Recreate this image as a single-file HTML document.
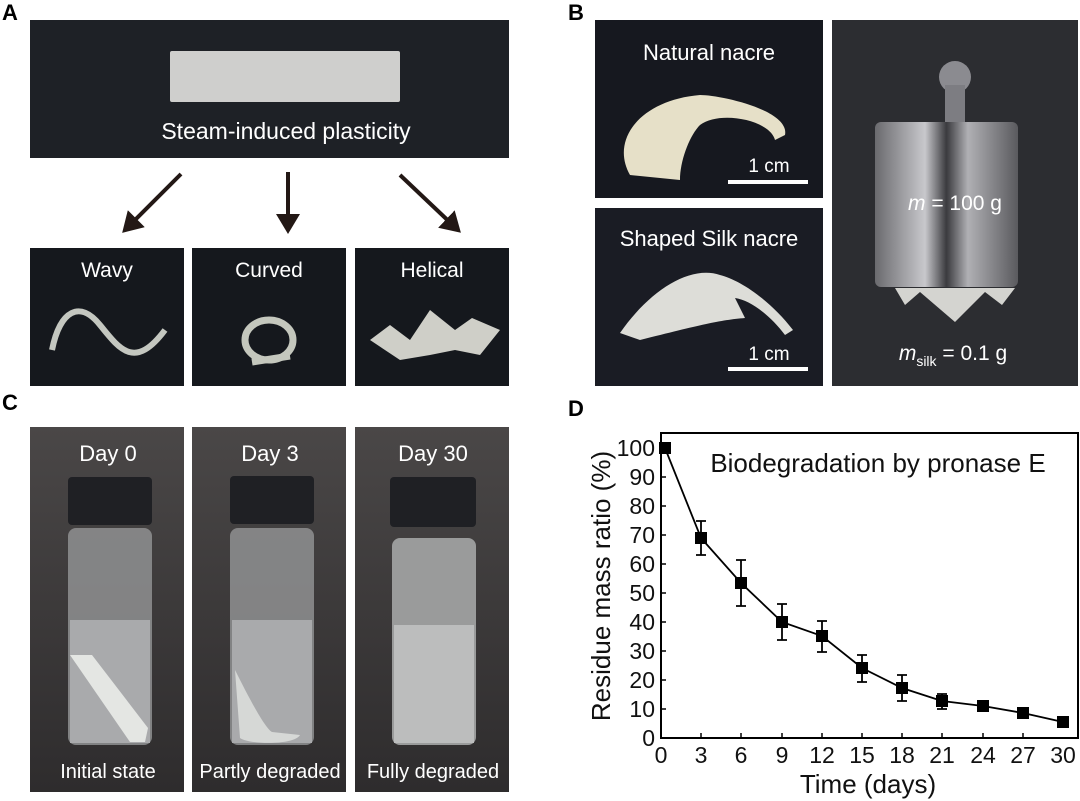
<!DOCTYPE html>
<html><head><meta charset="utf-8"><style>
html,body{margin:0;padding:0;background:#fff;}
svg{display:block;font-family:"Liberation Sans",Arial,sans-serif;}
</style></head><body>
<svg width="1080" height="801" viewBox="0 0 1080 801" xmlns="http://www.w3.org/2000/svg">
<defs>
<linearGradient id="gc" x1="0" y1="0" x2="0" y2="1"><stop offset="0" stop-color="#4a4747"/><stop offset="1" stop-color="#2e2c2d"/></linearGradient>
<linearGradient id="gw" x1="0" y1="0" x2="1" y2="0"><stop offset="0" stop-color="#6a6a6e"/><stop offset="0.35" stop-color="#c8c8cc"/><stop offset="0.5" stop-color="#3a3a3e"/><stop offset="0.65" stop-color="#b0b0b4"/><stop offset="1" stop-color="#5a5a5e"/></linearGradient>
<marker id="ah" markerWidth="6" markerHeight="6" refX="4" refY="3" orient="auto" markerUnits="strokeWidth"><path d="M0,0 L5,3 L0,6 Z" fill="#231815"/></marker>
</defs>
<g font-weight="bold" font-size="22" fill="#000">
<text x="2" y="20">A</text><text x="568" y="20">B</text><text x="2" y="410">C</text><text x="568" y="416">D</text>
</g>
<!-- A -->
<rect x="30" y="20" width="479" height="138" fill="#1e2126"/>
<rect x="170" y="51" width="230" height="51" fill="#cfcfcd" rx="2"/>
<text x="286" y="139" font-size="23" fill="#fff" text-anchor="middle">Steam-induced plasticity</text>
<g stroke="#231815" stroke-width="4" fill="none">
<line x1="181" y1="174" x2="125" y2="230" marker-end="url(#ah)"/>
<line x1="288" y1="172" x2="288" y2="230" marker-end="url(#ah)"/>
<line x1="400" y1="175" x2="458" y2="230" marker-end="url(#ah)"/>
</g>
<rect x="30" y="248" width="154" height="138" fill="#15181d"/>
<rect x="192" y="248" width="154" height="138" fill="#15181d"/>
<rect x="355" y="248" width="154" height="138" fill="#15181d"/>
<g font-size="21" fill="#fff" text-anchor="middle"><text x="107" y="277">Wavy</text><text x="269" y="277">Curved</text><text x="432" y="277">Helical</text></g>
<path d="M52,350 C60,310 80,300 100,325 S135,370 165,330" stroke="#c4c7c0" stroke-width="6" fill="none"/>
<ellipse cx="269" cy="340" rx="24" ry="20" stroke="#c4c7bd" stroke-width="7" fill="none"/>
<path d="M252,362 L290,356" stroke="#c4c7bd" stroke-width="7"/>
<path d="M370,340 L390,325 L410,340 L430,310 L455,330 L472,318 L500,330 L480,355 L455,350 L430,355 L400,360 Z" fill="#cfcfc8"/>
<!-- B -->
<rect x="595" y="20" width="228" height="178" fill="#16181f"/>
<rect x="595" y="208" width="228" height="178" fill="#1a1c24"/>
<rect x="832" y="20" width="246" height="366" fill="#2c2d31"/>
<text x="709" y="60" font-size="22" fill="#fff" text-anchor="middle">Natural nacre</text>
<path d="M630,175 C610,140 640,100 700,95 C720,95 790,110 785,135 L775,140 C770,120 720,110 700,125 C690,135 680,160 680,180 Z" fill="#e6e0c8"/>
<text x="769" y="172" font-size="19" fill="#fff" text-anchor="middle">1 cm</text>
<rect x="728" y="180" width="80" height="4" fill="#fff"/>
<text x="709" y="246" font-size="22" fill="#fff" text-anchor="middle">Shaped Silk nacre</text>
<path d="M620,333 C650,290 690,265 720,275 C740,280 770,300 793,330 L785,335 C770,315 750,300 735,298 L745,318 C720,320 700,325 640,340 Z" fill="#ddddd8"/>
<text x="769" y="360" font-size="19" fill="#fff" text-anchor="middle">1 cm</text>
<rect x="728" y="367" width="80" height="4" fill="#fff"/>
<circle cx="955" cy="77" r="16" fill="#8b8b90"/>
<rect x="945" y="85" width="20" height="40" fill="#7d7d82"/>
<rect x="875" y="122" width="143" height="165" rx="6" fill="url(#gw)"/>
<path d="M895,288 L905,305 L920,292 L955,322 L985,292 L1002,305 L1015,288 Z" fill="#d4d4d0"/>
<text x="955" y="210" font-size="21" fill="#fff" text-anchor="middle"><tspan font-style="italic">m</tspan> = 100 g</text>
<text x="953" y="360" font-size="21" fill="#fff" text-anchor="middle"><tspan font-style="italic">m</tspan><tspan font-size="14" dy="6">silk</tspan><tspan dy="-6"> = 0.1 g</tspan></text>
<!-- C -->
<g>
<rect x="30" y="427" width="154" height="365" fill="url(#gc)"/>
<rect x="192" y="427" width="154" height="365" fill="url(#gc)"/>
<rect x="355" y="427" width="154" height="365" fill="url(#gc)"/>
<rect x="68" y="477" width="84" height="48" rx="4" fill="#1f2024"/>
<rect x="230" y="476" width="84" height="48" rx="4" fill="#1f2024"/>
<rect x="390" y="477" width="86" height="50" rx="4" fill="#1f2024"/>
<rect x="68" y="528" width="84" height="217" rx="8" fill="#8f9092" opacity="0.85"/>
<rect x="230" y="528" width="84" height="217" rx="8" fill="#8f9092" opacity="0.85"/>
<rect x="392" y="538" width="84" height="207" rx="8" fill="#9a9b9b"/>
<rect x="70" y="620" width="80" height="123" fill="#a9aaac"/>
<rect x="232" y="620" width="80" height="123" fill="#a9aaac"/>
<rect x="394" y="625" width="80" height="118" fill="#bcbdbd"/>
<path d="M70,655 L92,655 L148,728 L145,742 L130,742 Z" fill="#e4e6e3"/>
<path d="M235,670 C250,700 265,728 272,732 L300,735 C295,745 250,745 240,738 Z" fill="#d6d8d6"/>
<g font-size="22" fill="#fff" text-anchor="middle"><text x="108" y="461">Day 0</text><text x="270" y="461">Day 3</text><text x="433" y="461">Day 30</text></g>
<g font-size="20" fill="#fff" text-anchor="middle"><text x="108" y="778">Initial state</text><text x="270" y="778">Partly degraded</text><text x="433" y="778">Fully degraded</text></g>
</g>
<!-- D -->
<rect x="661" y="433" width="417" height="305" fill="#fff" stroke="#000" stroke-width="2"/>
<text x="878" y="472" font-size="26" fill="#111" text-anchor="middle">Biodegradation by pronase E</text>
<g font-size="23" fill="#111" text-anchor="end">
<text x="655" y="746">0</text><text x="655" y="717">10</text><text x="655" y="688">20</text><text x="655" y="659">30</text><text x="655" y="630">40</text><text x="655" y="601">50</text><text x="655" y="572">60</text><text x="655" y="543">70</text><text x="655" y="514">80</text><text x="655" y="485">90</text><text x="655" y="456">100</text>
</g>
<g stroke="#000" stroke-width="1.5">
<line x1="661" y1="709" x2="666" y2="709"/><line x1="661" y1="680" x2="666" y2="680"/><line x1="661" y1="651" x2="666" y2="651"/><line x1="661" y1="622" x2="666" y2="622"/><line x1="661" y1="593" x2="666" y2="593"/><line x1="661" y1="564" x2="666" y2="564"/><line x1="661" y1="535" x2="666" y2="535"/><line x1="661" y1="506" x2="666" y2="506"/><line x1="661" y1="477" x2="666" y2="477"/><line x1="661" y1="448" x2="666" y2="448"/>
<line x1="701" y1="738" x2="701" y2="733"/><line x1="741" y1="738" x2="741" y2="733"/><line x1="782" y1="738" x2="782" y2="733"/><line x1="822" y1="738" x2="822" y2="733"/><line x1="862" y1="738" x2="862" y2="733"/><line x1="902" y1="738" x2="902" y2="733"/><line x1="942" y1="738" x2="942" y2="733"/><line x1="983" y1="738" x2="983" y2="733"/><line x1="1023" y1="738" x2="1023" y2="733"/>
</g>
<g font-size="23" fill="#111" text-anchor="middle">
<text x="661" y="763">0</text><text x="701" y="763">3</text><text x="741" y="763">6</text><text x="782" y="763">9</text><text x="822" y="763">12</text><text x="862" y="763">15</text><text x="902" y="763">18</text><text x="942" y="763">21</text><text x="983" y="763">24</text><text x="1023" y="763">27</text><text x="1063" y="763">30</text>
</g>
<text x="868" y="793" font-size="26" fill="#111" text-anchor="middle">Time (days)</text>
<text transform="translate(610,586) rotate(-90)" font-size="26" fill="#111" text-anchor="middle">Residue mass ratio (%)</text>
<g stroke="#000" stroke-width="1.8" fill="none">
<path d="M665,448 L701,538 L741,583 L782,622 L822,636 L862,668 L902,688 L942,701 L983,706 L1023,713 L1063,722"/>
<path d="M701,521 V555 M696,521 H706 M696,555 H706"/>
<path d="M741,560 V606 M736,560 H746 M736,606 H746"/>
<path d="M782,604 V640 M777,604 H787 M777,640 H787"/>
<path d="M822,621 V652 M817,621 H827 M817,652 H827"/>
<path d="M862,655 V682 M857,655 H867 M857,682 H867"/>
<path d="M902,675 V701 M897,675 H907 M897,701 H907"/>
<path d="M942,694 V709 M937,694 H947 M937,709 H947"/>
</g>
<g fill="#000">
<rect x="659" y="442" width="12" height="12"/><rect x="695" y="532" width="12" height="12"/><rect x="735" y="577" width="12" height="12"/><rect x="776" y="616" width="12" height="12"/><rect x="816" y="630" width="12" height="12"/><rect x="856" y="662" width="12" height="12"/><rect x="896" y="682" width="12" height="12"/><rect x="936" y="695" width="12" height="12"/><rect x="977" y="700" width="12" height="12"/><rect x="1017" y="707" width="12" height="12"/><rect x="1057" y="716" width="12" height="12"/>
</g>
</svg>
</body></html>
